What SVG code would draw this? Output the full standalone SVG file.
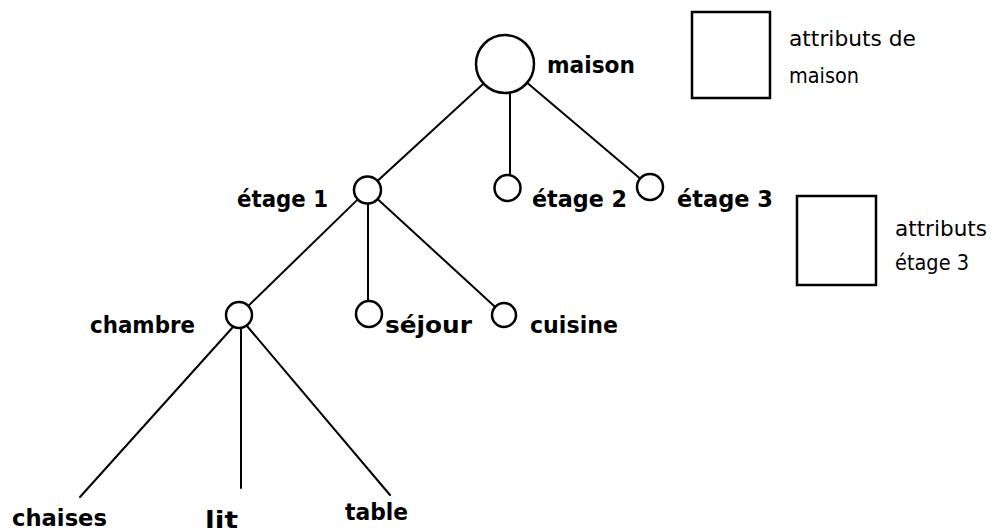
<svg xmlns="http://www.w3.org/2000/svg" width="994" height="532" viewBox="0 0 994 532">
<style>
.n{fill:#fff;stroke:#000;stroke-width:2.5}
.e{stroke:#000;stroke-width:2;fill:none;stroke-linecap:round}
.b{font-family:"DejaVu Sans","Liberation Sans",sans-serif;font-weight:bold;font-size:23px;fill:#000}
.r{font-family:"DejaVu Sans","Liberation Sans",sans-serif;font-size:21px;fill:#000}
.box{fill:#fff;stroke:#000;stroke-width:2.5}
</style>
<rect width="994" height="532" fill="#fff"/>
<g id="edges">
<line class="e" x1="483.6" y1="83.6" x2="377.4" y2="180.9"/>
<line class="e" x1="510" y1="93" x2="510" y2="175"/>
<line class="e" x1="527.1" y1="82.8" x2="640.1" y2="178.6"/>
<line class="e" x1="357.8" y1="199.4" x2="248.3" y2="305.9"/>
<line class="e" x1="368" y1="204" x2="368" y2="301"/>
<line class="e" x1="377.5" y1="199.1" x2="495.2" y2="306.9"/>
<line class="e" x1="233" y1="327" x2="80" y2="497"/>
<line class="e" x1="241" y1="328" x2="241" y2="488"/>
<line class="e" x1="247" y1="326" x2="390" y2="495"/>
</g>
<g id="maison"><circle class="n" cx="505" cy="64" r="29"/><text class="b" x="547" y="73" textLength="88" lengthAdjust="spacingAndGlyphs">maison</text></g>
<g id="etage1"><circle class="n" cx="367.5" cy="190" r="13.5"/><text class="b" x="237" y="207" textLength="91" lengthAdjust="spacingAndGlyphs">étage 1</text></g>
<g id="etage2"><circle class="n" cx="507.5" cy="188" r="13"/><text class="b" x="532" y="207" textLength="95" lengthAdjust="spacingAndGlyphs">étage 2</text></g>
<g id="etage3"><circle class="n" cx="650" cy="187" r="13"/><text class="b" x="677" y="207" textLength="96" lengthAdjust="spacingAndGlyphs">étage 3</text></g>
<g id="chambre"><circle class="n" cx="239" cy="315" r="13"/><text class="b" x="90" y="333" textLength="105" lengthAdjust="spacingAndGlyphs">chambre</text></g>
<g id="sejour"><circle class="n" cx="369" cy="314" r="13"/><text class="b" x="385" y="333" textLength="87" lengthAdjust="spacingAndGlyphs">séjour</text></g>
<g id="cuisine"><circle class="n" cx="504" cy="315" r="12"/><text class="b" x="530" y="333" textLength="88" lengthAdjust="spacingAndGlyphs">cuisine</text></g>
<g id="chaises"><text class="b" x="12" y="526" textLength="95" lengthAdjust="spacingAndGlyphs">chaises</text></g>
<g id="lit"><text class="b" x="205" y="528" textLength="33" lengthAdjust="spacingAndGlyphs">lit</text></g>
<g id="table"><text class="b" x="345" y="520" textLength="63" lengthAdjust="spacingAndGlyphs">table</text></g>
<g id="attr-maison"><rect class="box" x="692" y="12" width="78" height="86"/><text class="r" x="789" y="46" textLength="127" lengthAdjust="spacingAndGlyphs">attributs de</text><text class="r" x="789" y="83" textLength="70" lengthAdjust="spacingAndGlyphs">maison</text></g>
<g id="attr-etage3"><rect class="box" x="797" y="196" width="79" height="89"/><text class="r" x="895" y="236" textLength="92" lengthAdjust="spacingAndGlyphs">attributs</text><text class="r" x="895" y="270" textLength="74" lengthAdjust="spacingAndGlyphs">étage 3</text></g>
</svg>
